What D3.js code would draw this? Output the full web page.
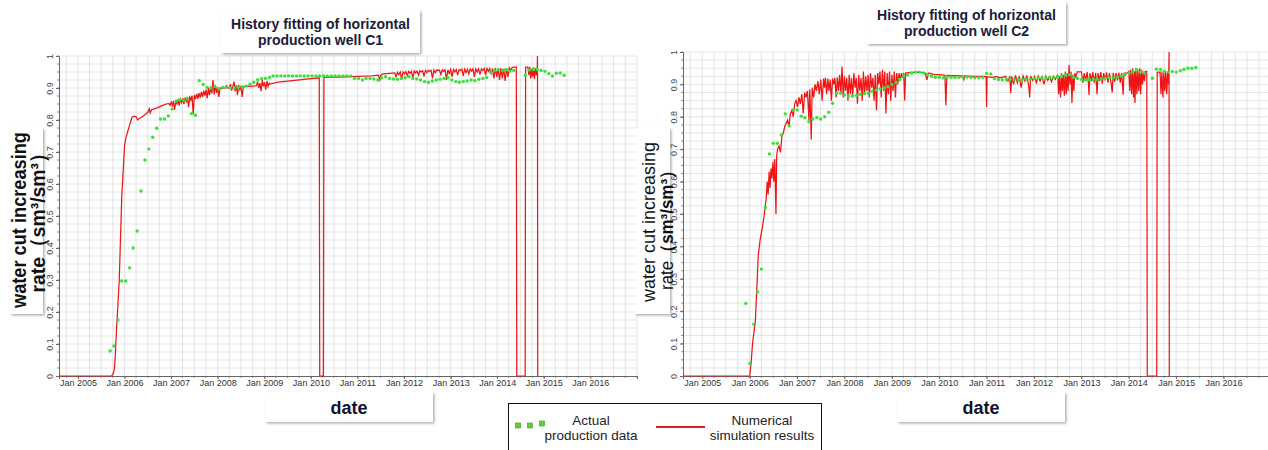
<!DOCTYPE html>
<html>
<head>
<meta charset="utf-8">
<script src="https://cdn.jsdelivr.net/npm/d3@7"></script>
<style>
  body { margin: 0; background: #fff; }
  svg { display: block; font-family: "Liberation Sans", Arial, sans-serif; }
</style>
</head>
<body>
<div id="chart"></div>
<script>
// axis tick values
var yTicks = [0, 0.1, 0.2, 0.3, 0.4, 0.5, 0.6, 0.7, 0.8, 0.9, 1];
var xTickYears = [2005, 2006, 2007, 2008, 2009, 2010, 2011, 2012, 2013, 2014, 2015, 2016];

// well C1 - simulation [decimal year, water cut]
var c1Sim = [
  [2004.59,0],[2005.72,0],[2005.75,0.005],[2005.78,0.02],[2005.80,0.06],[2005.815,0.11],[2005.886,0.30],[2005.94,0.56],
  [2006.0,0.72],[2006.03,0.745],[2006.08,0.77],[2006.12,0.79],[2006.16,0.808],[2006.2,0.812],[2006.25,0.81],[2006.28,0.80],
  [2006.32,0.805],[2006.38,0.81],[2006.45,0.818],[2006.5,0.824],[2006.53,0.835],[2006.55,0.822],[2006.58,0.832],[2006.7,0.838],
  [2006.8,0.845],[2006.9,0.85],
  [2006.95,0.852],[2006.975,0.846],[2007.0,0.856],[2007.025,0.845],[2007.05,0.86],[2007.075,0.832],[2007.1,0.858],[2007.125,0.85],
  [2007.15,0.862],[2007.175,0.846],[2007.2,0.865],[2007.225,0.855],[2007.25,0.868],[2007.275,0.85],[2007.3,0.87],[2007.325,0.858],
  [2007.35,0.872],[2007.375,0.84],[2007.4,0.874],
  [2007.425,0.862],[2007.45,0.876],[2007.475,0.818],[2007.5,0.878],[2007.525,0.865],[2007.55,0.882],[2007.575,0.866],[2007.6,0.884],
  [2007.625,0.87],[2007.65,0.888],[2007.675,0.872],[2007.7,0.892],[2007.725,0.876],[2007.75,0.895],[2007.775,0.868],[2007.8,0.9],
  [2007.825,0.878],[2007.85,0.904],[2007.875,0.882],[2007.9,0.925],[2007.925,0.88],[2007.95,0.91],[2007.975,0.885],[2008.0,0.902],
  [2008.025,0.872],[2008.05,0.9],
  [2008.1,0.898],[2008.15,0.9],[2008.2,0.901],[2008.25,0.9],
  [2008.275,0.912],[2008.3,0.892],[2008.325,0.905],[2008.35,0.92],[2008.375,0.89],[2008.4,0.908],[2008.425,0.878],[2008.45,0.91],
  [2008.475,0.896],[2008.5,0.906],[2008.525,0.872],[2008.55,0.904],
  [2008.65,0.905],[2008.75,0.906],[2008.83,0.907],
  [2008.855,0.92],[2008.88,0.9],[2008.905,0.915],[2008.93,0.89],[2008.955,0.925],[2008.98,0.905],[2009.005,0.918],[2009.03,0.895],
  [2009.055,0.922],[2009.08,0.905],[2009.105,0.915],[2009.12,0.912],
  [2009.3,0.918],[2009.6,0.923],[2009.9,0.928],[2010.18,0.932],[2010.19,0],[2010.27,0],[2010.28,0.933],[2010.6,0.934],
  [2011.0,0.936],[2011.3,0.938],[2011.45,0.94],[2011.48,0.926],[2011.5,0.94],[2011.55,0.944],[2011.7,0.946],
  [2011.80,0.947],[2011.83,0.935],[2011.86,0.949],[2011.89,0.942],[2011.92,0.95],[2011.95,0.928],[2011.98,0.95],[2012.01,0.944],
  [2012.04,0.951],[2012.07,0.938],[2012.10,0.952],[2012.13,0.946],[2012.16,0.952],[2012.19,0.932],[2012.22,0.953],[2012.25,0.947],
  [2012.28,0.953],[2012.31,0.94],[2012.34,0.954],[2012.37,0.95],[2012.40,0.954],[2012.43,0.936],[2012.46,0.955],[2012.49,0.948],
  [2012.52,0.955],[2012.55,0.952],[2012.58,0.955],[2012.61,0.93],[2012.64,0.956],[2012.67,0.948],[2012.70,0.956],[2012.73,0.955],
  [2012.76,0.956],[2012.79,0.942],[2012.82,0.957],[2012.85,0.952],[2012.88,0.957],[2012.91,0.925],[2012.94,0.957],[2012.97,0.945],
  [2013.00,0.958],[2013.03,0.935],[2013.06,0.958],[2013.09,0.95],[2013.12,0.958],[2013.15,0.94],[2013.18,0.958],[2013.21,0.955],
  [2013.24,0.959],[2013.27,0.938],[2013.30,0.959],[2013.33,0.948],[2013.36,0.959],[2013.39,0.944],[2013.42,0.96],[2013.45,0.953],
  [2013.48,0.96],[2013.51,0.935],[2013.54,0.96],[2013.57,0.95],[2013.60,0.96],[2013.63,0.942],[2013.66,0.96],[2013.69,0.955],
  [2013.72,0.961],[2013.75,0.94],[2013.78,0.961],[2013.81,0.952],[2013.84,0.961],[2013.87,0.945],[2013.90,0.961],[2013.93,0.93],
  [2013.96,0.962],[2013.99,0.935],[2014.02,0.962],[2014.05,0.925],[2014.08,0.962],[2014.11,0.93],[2014.14,0.96],[2014.17,0.922],
  [2014.20,0.962],[2014.23,0.935],[2014.26,0.963],[2014.29,0.955],[2014.32,0.964],[2014.36,0.965],[2014.41,0.965],
  [2014.42,0],[2014.60,0],[2014.61,0.965],[2014.66,0.965],[2014.68,0.94],[2014.70,0.966],[2014.72,0.93],[2014.74,0.96],
  [2014.76,0.935],[2014.78,0.965],[2014.80,0.928],[2014.82,0.962],[2014.84,0.94],[2014.86,0.962],[2014.865,1.0],[2014.87,0]
];

// well C1 - measured, monthly from first date (null = no sample)
var c1DotStart = "2005-09-10";
var c1Dots = [
  0.078,0.094,0.175,0.297,0.297,0.338,0.40,0.453,0.578,0.675,0.709,0.746,0.774,0.803,0.803,0.8125,
  0.834,0.859,0.8625,0.8625,0.866,0.82,0.815,0.923,0.911,0.902,0.90,0.905,0.898,0.902,0.905,0.90,
  0.90,0.902,0.903,0.906,0.912,0.918,0.926,0.929,0.93,0.933,0.9375,0.9375,0.938,0.9375,0.938,0.9375,
  0.9375,0.938,0.9375,0.9375,0.938,0.9375,0.9375,0.938,0.9375,0.9375,0.9375,0.938,0.9375,0.9375,0.9375,
  0.93,0.93,0.925,0.93,0.93,0.928,0.925,0.932,0.935,0.93,0.928,0.927,0.93,0.932,0.935,0.93,
  0.928,0.925,0.92,0.918,0.922,0.925,0.927,0.93,0.933,0.925,0.92,0.918,0.92,0.922,0.925,0.923,
  0.927,0.93,0.933,0.95,0.955,0.958,0.955,0.958,0.952,0.955,null,null,0.94,0.956,0.958,0.958,
  0.955,0.952,0.945,0.9375,0.946,0.947,0.94
];

// well C2 - simulation [decimal year, water cut]
var c2Sim = [
  [2004.59,0],[2006.0,0],[2006.03,0.04],[2006.06,0.10],[2006.12,0.17],[2006.16,0.3],[2006.18,0.37],[2006.22,0.42],
  [2006.27,0.46],[2006.31,0.50],[2006.35,0.55],[2006.37,0.6],[2006.39,0.56],[2006.41,0.63],[2006.43,0.58],[2006.45,0.64],
  [2006.47,0.61],[2006.49,0.66],[2006.51,0.6],[2006.53,0.67],[2006.555,0.5],[2006.57,0.68],[2006.59,0.70],[2006.62,0.71],
  [2006.65,0.69],[2006.68,0.74],[2006.71,0.75],[2006.74,0.77],[2006.77,0.78],[2006.80,0.79],[2006.83,0.77],[2006.86,0.81],
  [2006.89,0.82],[2006.92,0.8],[2006.95,0.84],[2006.98,0.85],[2007.01,0.83],[2007.04,0.86],[2007.07,0.84],[2007.10,0.87],
  [2007.13,0.81],[2007.16,0.875],[2007.19,0.86],[2007.22,0.88],[2007.25,0.79],[2007.27,0.885],[2007.30,0.73],[2007.32,0.89],
  [2007.35,0.86],[2007.38,0.9],[2007.41,0.88],[2007.44,0.91],[2007.47,0.87],[2007.50,0.915],[2007.53,0.85],[2007.56,0.918],
  [2007.58,0.89],[2007.60,0.92],[2007.625,0.87],[2007.65,0.918],[2007.675,0.88],[2007.70,0.915],[2007.725,0.85],[2007.75,0.918],
  [2007.775,0.9],[2007.80,0.92],[2007.825,0.86],[2007.85,0.922],[2007.875,0.88],[2007.90,0.93],[2007.925,0.87],[2007.95,0.955],
  [2007.975,0.86],[2008.0,0.925],[2008.025,0.88],[2008.05,0.92],[2008.075,0.85],[2008.10,0.93],[2008.125,0.87],[2008.15,0.92],
  [2008.175,0.86],[2008.20,0.935],[2008.225,0.89],[2008.25,0.92],[2008.275,0.84],[2008.30,0.93],[2008.325,0.88],[2008.35,0.92],
  [2008.375,0.85],[2008.40,0.94],[2008.425,0.87],[2008.45,0.925],[2008.475,0.88],[2008.50,0.93],[2008.525,0.86],[2008.55,0.935],
  [2008.575,0.89],[2008.60,0.92],[2008.625,0.85],[2008.65,0.93],[2008.675,0.82],[2008.70,0.935],[2008.725,0.9],[2008.75,0.94],
  [2008.775,0.86],[2008.80,0.945],[2008.825,0.88],[2008.85,0.94],[2008.875,0.81],[2008.90,0.935],[2008.925,0.87],[2008.95,0.94],
  [2008.975,0.85],[2009.0,0.93],[2009.025,0.88],[2009.05,0.94],[2009.075,0.86],[2009.10,0.935],[2009.125,0.9],[2009.15,0.935],
  [2009.175,0.91],[2009.20,0.935],[2009.225,0.92],[2009.25,0.935],[2009.27,0.85],[2009.29,0.935],
  [2009.4,0.937],[2009.55,0.938],[2009.7,0.936],[2009.74,0.914],[2009.77,0.935],[2009.9,0.93],[2010.0,0.93],[2010.12,0.928],
  [2010.14,0.836],[2010.16,0.928],[2010.3,0.927],[2010.5,0.926],[2010.52,0.915],[2010.54,0.926],[2010.7,0.925],[2010.9,0.925],
  [2010.99,0.924],[2011.0,0.83],[2011.01,0.924],[2011.1,0.922],[2011.2,0.924],[2011.3,0.92],[2011.4,0.925],
  [2011.45,0.91],[2011.49,0.925],[2011.51,0.873],[2011.53,0.925],[2011.57,0.9],[2011.61,0.928],[2011.65,0.905],[2011.69,0.925],
  [2011.73,0.89],[2011.77,0.926],[2011.81,0.91],[2011.85,0.928],[2011.89,0.895],[2011.91,0.86],[2011.93,0.926],[2011.97,0.912],
  [2012.01,0.925],[2012.05,0.905],[2012.09,0.926],[2012.13,0.91],[2012.17,0.924],[2012.21,0.9],[2012.25,0.925],[2012.29,0.912],
  [2012.33,0.922],[2012.37,0.908],[2012.41,0.925],[2012.45,0.915],
  [2012.50,0.93],[2012.52,0.87],[2012.54,0.925],[2012.56,0.86],[2012.58,0.935],[2012.60,0.88],[2012.62,0.93],[2012.64,0.865],
  [2012.66,0.94],[2012.68,0.87],[2012.70,0.935],[2012.72,0.88],[2012.74,0.96],[2012.76,0.9],[2012.78,0.94],[2012.80,0.843],
  [2012.82,0.93],[2012.84,0.88],[2012.86,0.935],[2012.88,0.92],[2012.91,0.939],[2013.0,0.939],
  [2013.03,0.905],[2013.06,0.935],[2013.09,0.91],[2013.12,0.938],[2013.15,0.9],[2013.16,0.867],[2013.18,0.935],[2013.21,0.91],
  [2013.24,0.938],[2013.27,0.905],[2013.30,0.936],[2013.33,0.87],[2013.35,0.935],[2013.38,0.91],[2013.41,0.938],[2013.44,0.902],
  [2013.47,0.935],[2013.50,0.912],[2013.53,0.937],[2013.56,0.905],[2013.59,0.935],[2013.62,0.91],[2013.65,0.875],[2013.67,0.936],
  [2013.70,0.908],[2013.73,0.935],[2013.76,0.912],[2013.79,0.936],[2013.82,0.905],[2013.85,0.935],[2013.88,0.868],[2013.90,0.935],
  [2013.97,0.935],
  [2014.00,0.94],[2014.02,0.88],[2014.04,0.945],[2014.06,0.87],[2014.08,0.95],[2014.10,0.86],[2014.12,0.94],[2014.13,0.843],
  [2014.15,0.95],[2014.17,0.87],[2014.19,0.945],[2014.21,0.88],[2014.23,0.95],[2014.25,0.87],[2014.27,0.945],[2014.29,0.9],
  [2014.31,0.94],[2014.33,0.91],[2014.35,0.94],[2014.38,0.94],
  [2014.39,0],[2014.59,0],[2014.60,0.938],[2014.66,0.938],
  [2014.68,0.87],[2014.70,0.94],[2014.72,0.86],[2014.74,0.935],[2014.76,0.88],[2014.78,0.94],[2014.80,0.87],[2014.82,0.935],
  [2014.84,0.9],[2014.85,1.0],[2014.855,0]
];

// well C2 - measured, monthly from first date
var c2DotStart = "2005-12-02";
var c2Dots = [
  0.224,0.039,0.16,0.26,0.33,0.52,0.685,0.718,0.718,0.744,0.809,0.772,0.821,0.821,0.802,0.797,
  0.785,0.793,0.798,0.793,0.80,0.814,0.842,0.873,0.873,0.867,0.864,0.864,0.866,0.869,0.871,0.873,
  0.878,0.883,0.886,0.889,0.893,0.90,0.907,0.916,0.926,0.93,0.935,0.938,0.938,0.935,0.93,0.925,
  0.922,0.922,0.92,0.923,0.922,0.921,0.922,0.922,0.923,0.922,0.92,0.921,0.922,0.934,0.932,0.918,
  0.915,0.914,0.915,0.916,0.914,0.915,0.915,0.916,0.917,0.918,0.92,0.92,0.92,0.922,0.921,0.922,
  0.925,0.929,0.93,0.922,0.918,0.915,0.914,0.915,0.915,0.916,0.917,0.918,0.92,0.92,0.922,0.925,
  0.93,0.935,0.94,0.945,0.938,0.935,null,0.919,0.947,0.946,0.94,0.938,0.94,0.938,0.942,0.946,
  0.95,0.95,0.952
];

var svgWidth = 1268, svgHeight = 450;
var svg = d3.select("#chart").append("svg")
  .attr("width", svgWidth)
  .attr("height", svgHeight);

var defs = svg.append("defs");
var shadow = defs.append("filter").attr("id", "shadow")
  .attr("x", "-10%").attr("y", "-10%").attr("width", "130%").attr("height", "130%");
shadow.append("feDropShadow")
  .attr("dx", 1.5).attr("dy", 1.5).attr("stdDeviation", 1)
  .attr("flood-color", "#777").attr("flood-opacity", 0.6);

function yearToDate(y) {
  var yr = Math.floor(y);
  var a = Date.UTC(yr, 0, 1), b = Date.UTC(yr + 1, 0, 1);
  return new Date(a + (y - yr) * (b - a));
}

var domainStart = new Date(Date.UTC(2004, 7, 5));
var domainEnd = new Date(Date.UTC(2017, 0, 1));

function drawChart(cfg) {
  var bottom = 376;
  var x = d3.scaleUtc().domain([domainStart, domainEnd]).range([cfg.left, cfg.right]);
  var y = d3.scaleLinear().domain([0, 1]).range([bottom, cfg.top]);

  var g = svg.append("g");

  // grid
  var months = d3.utcMonth.every(3).range(domainStart, domainEnd);
  months.push(domainEnd);
  g.append("g").selectAll("line").data(months).enter().append("line")
    .attr("x1", d => x(d)).attr("x2", d => x(d))
    .attr("y1", cfg.top).attr("y2", bottom)
    .attr("stroke", "#dedede").attr("stroke-width", 0.8);

  var hLines = d3.range(1, 41).map(i => i * 0.025);
  g.append("g").selectAll("line").data(hLines).enter().append("line")
    .attr("x1", cfg.left).attr("x2", cfg.right)
    .attr("y1", d => y(d)).attr("y2", d => y(d))
    .attr("stroke", "#dedede").attr("stroke-width", 0.8);

  // minor ticks
  g.append("g").selectAll("line").data(hLines).enter().append("line")
    .attr("x1", cfg.left - 2).attr("x2", cfg.left)
    .attr("y1", d => y(d)).attr("y2", d => y(d))
    .attr("stroke", "#777").attr("stroke-width", 0.8);
  g.append("g").selectAll("line").data(months).enter().append("line")
    .attr("x1", d => x(d)).attr("x2", d => x(d))
    .attr("y1", bottom).attr("y2", bottom + 2)
    .attr("stroke", "#777").attr("stroke-width", 0.8);

  // axes
  var xAxis = d3.axisBottom(x)
    .tickValues(xTickYears.map(yr => new Date(Date.UTC(yr, 0, 1))))
    .tickFormat(d3.utcFormat("Jan %Y"))
    .tickSize(3).tickPadding(1);
  var xg = g.append("g").attr("transform", `translate(0,${bottom})`).call(xAxis);
  xg.select(".domain").attr("stroke", "#666");
  xg.selectAll(".tick line").attr("stroke", "#666");
  xg.selectAll("text").attr("font-size", 9).attr("fill", "#333")
    .attr("font-family", "Liberation Sans, Arial, sans-serif");

  var yAxis = d3.axisLeft(y).tickValues(yTicks)
    .tickFormat(d => String(+d.toFixed(1))).tickSize(3);
  var yg = g.append("g").attr("transform", `translate(${cfg.left},0)`).call(yAxis);
  yg.select(".domain").attr("stroke", "#666");
  yg.selectAll(".tick line").attr("stroke", "#666");
  yg.selectAll("text")
    .attr("x", 0).attr("dy", 0)
    .attr("transform", "translate(-6,0) rotate(-90)")
    .attr("text-anchor", "middle")
    .attr("font-size", 9).attr("fill", "#444")
    .attr("font-family", "Liberation Sans, Arial, sans-serif");

  // clip
  defs.append("clipPath").attr("id", cfg.id + "clip").append("rect")
    .attr("x", cfg.left).attr("y", cfg.top - 1)
    .attr("width", cfg.right - cfg.left).attr("height", bottom - cfg.top + 1.5);

  var plot = g.append("g").attr("clip-path", `url(#${cfg.id}clip)`);

  var line = d3.line()
    .x(d => x(yearToDate(d[0])))
    .y(d => y(d[1]));

  plot.append("path").datum(cfg.sim)
    .attr("d", line)
    .attr("fill", "none")
    .attr("stroke", "#f01515")
    .attr("stroke-width", 1.25);

  var start = new Date(cfg.dotStart + "T00:00:00Z");
  var dots = cfg.dots.map((v, i) => ({ date: d3.utcMonth.offset(start, i), value: v }))
    .filter(d => d.value !== null);

  plot.append("g").selectAll("circle").data(dots).enter().append("circle")
    .attr("cx", d => x(d.date))
    .attr("cy", d => y(d.value))
    .attr("r", 1.7)
    .attr("fill", "#3be03b");

  // title box
  var t = cfg.title;
  svg.append("rect").attr("x", t.x).attr("y", t.y).attr("width", t.w).attr("height", t.h)
    .attr("fill", "#fff").attr("filter", "url(#shadow)");
  t.lines.forEach(function(txt, i) {
    svg.append("text")
      .attr("x", t.x + t.w / 2).attr("y", t.baselines[i])
      .attr("text-anchor", "middle")
      .attr("font-size", 14).attr("font-weight", "bold")
      .attr("fill", "#1b1b3b")
      .text(txt);
  });

  // y label box
  var yl = cfg.yLabel;
  svg.append("rect").attr("x", yl.x).attr("y", yl.y).attr("width", yl.w).attr("height", yl.h)
    .attr("fill", "#fff").attr("filter", "url(#shadow)");
  svg.append("text")
    .attr("transform", `translate(${yl.base1},${yl.mid1}) rotate(-90)`)
    .attr("text-anchor", "middle")
    .attr("font-size", yl.size)
    .attr("font-weight", yl.bold1 ? "bold" : "normal")
    .attr("fill", "#111")
    .attr("textLength", yl.len1).attr("lengthAdjust", "spacingAndGlyphs")
    .text("water cut increasing");
  var l2 = svg.append("text")
    .attr("transform", `translate(${yl.base2},${yl.mid2}) rotate(-90)`)
    .attr("text-anchor", "middle")
    .attr("font-size", yl.size)
    .attr("fill", "#111")
    .attr("textLength", yl.len2).attr("lengthAdjust", "spacingAndGlyphs");
  l2.append("tspan").attr("font-weight", yl.boldRate ? "bold" : "normal").text("rate");
  l2.append("tspan").attr("font-weight", "bold").text("（sm³/sm³）");

  // x label box
  var xl = cfg.xLabel;
  svg.append("rect").attr("x", xl.x).attr("y", xl.y).attr("width", xl.w).attr("height", xl.h)
    .attr("fill", "#fff").attr("filter", "url(#shadow)");
  svg.append("text")
    .attr("x", xl.x + xl.w / 2).attr("y", xl.y + 22)
    .attr("text-anchor", "middle")
    .attr("font-size", 18).attr("font-weight", "bold")
    .attr("fill", "#111133")
    .text("date");
}

drawChart({
  id: "c1", left: 59, right: 637, top: 56,
  sim: c1Sim, dots: c1Dots, dotStart: c1DotStart,
  title: { x: 221, y: 10, w: 199, h: 43, lines: ["History fitting of horizontal", "production well C1"], baselines: [29, 45] },
  yLabel: { x: 10, y: 128, w: 33, h: 186, size: 21, bold1: true, boldRate: true,
            base1: 26, mid1: 220, len1: 176, base2: 45, mid2: 218, len2: 149 },
  xLabel: { x: 265, y: 392, w: 168, h: 30 }
});

drawChart({
  id: "c2", left: 683, right: 1271, top: 52,
  sim: c2Sim, dots: c2Dots, dotStart: c2DotStart,
  title: { x: 867, y: 2, w: 199, h: 42, lines: ["History fitting of horizontal", "production well C2"], baselines: [20, 36] },
  yLabel: { x: 635, y: 128, w: 35, h: 186, size: 18, bold1: false, boldRate: false,
            base1: 655, mid1: 222, len1: 160, base2: 673, mid2: 226, len2: 128 },
  xLabel: { x: 897, y: 392, w: 168, h: 30 }
});

// legend
var legend = svg.append("g");
legend.append("rect").attr("x", 508.5).attr("y", 403.5).attr("width", 313).attr("height", 60)
  .attr("fill", "#fff").attr("stroke", "#111").attr("stroke-width", 1);
var legendSquares = [518, 530, 542];
legend.selectAll(".sq").data(legendSquares).enter().append("rect")
  .attr("x", d => d - 2.5).attr("y", (d, i) => i === 2 ? 421 : 423)
  .attr("width", 5).attr("height", 5)
  .attr("fill", "#66cc33").attr("stroke", "#3c9a2a").attr("stroke-width", 0.6);
legend.append("line").attr("x1", 656).attr("x2", 705).attr("y1", 427).attr("y2", 427)
  .attr("stroke", "#e02020").attr("stroke-width", 2);
[["Actual", 591, 424.5], ["production data", 591, 439.5], ["Numerical", 762, 424.5], ["simulation results", 762, 439.5]]
  .forEach(function(d) {
    legend.append("text").attr("x", d[1]).attr("y", d[2])
      .attr("text-anchor", "middle").attr("font-size", 13.5).attr("fill", "#222")
      .text(d[0]);
  });
</script>
</body>
</html>
